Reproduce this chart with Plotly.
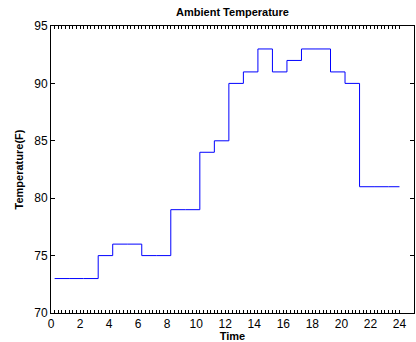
import plotly.graph_objects as go

# Hourly ambient temperature, held constant over each hour (step plot)
hour_start = [0.25, 1.25, 2.25, 3.25, 4.25, 5.25, 6.25, 7.25, 8.25, 9.25,
              10.25, 11.25, 12.25, 13.25, 14.25, 15.25, 16.25, 17.25, 18.25,
              19.25, 20.25, 21.25, 22.25, 23.25, 24.0]
temperature_f = [73, 73, 73, 75, 76, 76, 75, 75, 79, 79,
                 84, 85, 90, 91, 93, 91, 92, 93, 93,
                 91, 90, 81, 81, 81, 81]

# Axis ticks: a mark every quarter hour, labels every two hours
x_label_vals = [0, 2, 4, 6, 8, 10, 12, 14, 16, 18, 20, 22, 24]
x_label_text = ["0", "2", "4", "6", "8", "10", "12", "14", "16", "18", "20", "22", "24"]
quarter_marks = [q / 4 for q in range(0, 97)]
label_at = dict(zip(x_label_vals, x_label_text))
x_tick_text = [label_at.get(v, "") for v in quarter_marks]
y_tick_vals = [70, 75, 80, 85, 90, 95]

FONT = "Liberation Sans, Arial, Helvetica, sans-serif"

fig = go.Figure()
fig.add_trace(go.Scatter(
    x=hour_start, y=temperature_f,
    mode="lines", line=dict(color="#0000ff", width=1, shape="hv"),
    showlegend=False, hoverinfo="x+y",
))

fig.update_layout(
    width=416, height=342,
    margin=dict(l=51, r=2, t=26, b=29),
    paper_bgcolor="white", plot_bgcolor="white",
    font=dict(family=FONT, size=12, color="black"),
    title=dict(text="<b>Ambient Temperature</b>", font=dict(size=11, family=FONT),
               x=0.5, xref="paper", xanchor="center",
               y=1 - 12 / 342, yref="container", yanchor="middle"),
)

fig.update_xaxes(
    range=[0, 25], showgrid=False, zeroline=False, automargin=False,
    showline=True, linecolor="black", linewidth=1, mirror="allticks",
    tickmode="array", tickvals=quarter_marks, ticktext=x_tick_text,
    ticks="inside", ticklen=3, tickcolor="black", tickwidth=1,
    title=dict(text="<b>Time</b>", font=dict(size=11, family=FONT), standoff=5),
    tickfont=dict(size=12),
)
fig.update_yaxes(
    range=[70, 95], showgrid=False, zeroline=False, automargin=False,
    showline=True, linecolor="black", linewidth=1, mirror="allticks",
    tickmode="array", tickvals=y_tick_vals,
    ticks="inside", ticklen=4, tickcolor="black", tickwidth=1,
    title=dict(text="<b>Temperature(F)</b>", font=dict(size=11, family=FONT), standoff=8),
    tickfont=dict(size=12),
)

fig.write_html("out.html")
